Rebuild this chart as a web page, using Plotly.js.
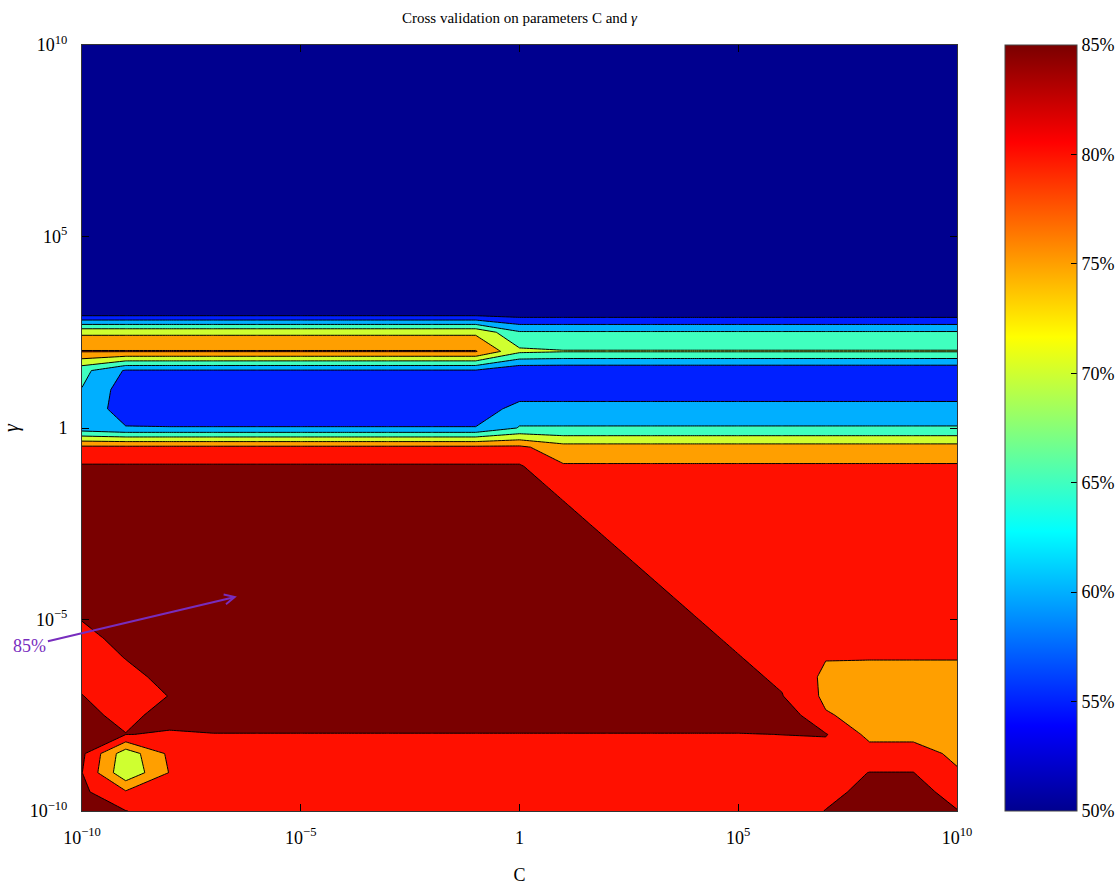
<!DOCTYPE html>
<html>
<head>
<meta charset="utf-8">
<script src="https://cdn.plot.ly/plotly-3.0.1.min.js"></script>
<style>html,body{margin:0;padding:0;background:#fff;}#chart{width:1119px;height:885px;}</style>
</head>
<body>
<div id="chart"></div>
<script>
// log10(C) grid (columns) and log10(gamma) grid (rows)
const logC = [-10,-9,-8,-7,-6,-5,-4,-3,-2,-1,0,1,2,3,4,5,6,7,8,9,10];
const logGamma = [-10,-9.5,-9,-8.5,-8,-7.5,-7,-6.5,-6,-5.5,-5,-4.5,-4,-3.5,-3,-2.5,-2,-1.5,-1,-0.5,0,
                  0.5,1,1.5,2,2.5,3,3.5,4,4.5,5,5.5,6,6.5,7,7.5,8,8.5,9,9.5,10];
// cross-validation accuracy (%) per (gamma row, C column)
const accuracy = [
  [87,85.1,83,83,83,83,83,83,83,83,83,83,83,83,83,83,83,85.1,87,87,85.1],          // -10
  [86,80.5,82,83,83,83,83,83,83,83,83,83,83,83,83,83,83,84,86,86,84],              // -9.5
  [85.1,71,80.2,83,83,83,83,83,83,83,83,83,83,83,83,83,83,83,85.1,85.1,80.5],      // -9
  [86,72,81,83,83,83,83,83,83,83,83,83,83,83,83,83,83,83,82,82,79],                // -8.5
  [87,85.1,84.6,84.8,84.8,84.8,84.8,84.8,84.8,84.8,84.8,84.8,84.8,84.8,84.8,84.8,85.05,85.3,78.7,78.7,78.5], // -8
  [86,84,86.4,88,88,88,88,88,88,88,88,88,88,88,88,88,88.5,80.4,78.5,78.5,78.5],    // -7.5
  [85.1,83,85.1,88,88,88,88,88,88,88,88,88,88,88,88,87.2,85.2,79,78.5,78.5,78.5],  // -7
  [84,84,86,88,88,88,88,88,88,88,88,88,88,88,88,86.2,84.2,79,78.5,78.5,78.5],      // -6.5
  [83,85.1,87,88,88,88,88,88,88,88,88,88,88,88,87.2,85.2,83.2,80.2,80.2,80.2,80.2],// -6
  [84,86,88,88,88,88,88,88,88,88,88,88,88,88,86.2,84.2,82.2,82.2,82.2,82.2,82.2],  // -5.5
  [85.1,87,88,88,88,88,88,88,88,88,88,88,88,87.2,85.2,83.2,82.2,82.2,82.2,82.2,82.2], // -5
  [86,88,88,88,88,88,88,88,88,88,88,88,88,86.2,84.2,82.2,82.2,82.2,82.2,82.2,82.2],  // -4.5
  [87,88,88,88,88,88,88,88,88,88,88,88,87.2,85.2,83.2,82.2,82.2,82.2,82.2,82.2,82.2],// -4
  [88,88,88,88,88,88,88,88,88,88,88,88,86.2,84.2,82.2,82.2,82.2,82.2,82.2,82.2,82.2],// -3.5
  [88,88,88,88,88,88,88,88,88,88,88,87.2,85.2,83.2,82.2,82.2,82.2,82.2,82.2,82.2,82.2],// -3
  [88,88,88,88,88,88,88,88,88,88,88,86.2,84.2,82.2,82.2,82.2,82.2,82.2,82.2,82.2,82.2],// -2.5
  [88,88,88,88,88,88,88,88,88,88,87.2,85.2,83.2,82.2,82.2,82.2,82.2,82.2,82.2,82.2,82.2],// -2
  [88,88,88,88,88,88,88,88,88,88,86.2,84.2,82.2,82.2,82.2,82.2,82.2,82.2,82.2,82.2,82.2],// -1.5
  [85.5,85.5,85.5,85.5,85.5,85.5,85.5,85.5,85.5,85.5,85.5,80.5,80.5,80.5,80.5,80.5,80.5,80.5,80.5,80.5,80.5], // -1
  [81,81,81,81,81,81,81,81,81,81,81,77,77,77,77,77,77,77,77,77,77],                // -0.5
  [62,60.3,60.3,60.3,60.3,60.3,60.3,60.3,60.3,60.3,65.3,65.3,65.3,65.3,65.3,65.3,65.3,65.3,65.3,65.3,65.3], // 0
  [63.5,57.5,56,56,56,56,56,56,56,56,62.5,62.5,62.5,62.5,62.5,62.5,62.5,62.5,62.5,62.5,62.5], // 0.5
  [64.8,57.5,56,56,56,56,56,56,56,56,56,56,56,56,56,56,56,56,56,56,56],            // 1
  [66.5,59.5,59.5,59.5,59.5,59.5,59.5,59.5,59.5,59.5,56,56,56,56,56,56,56,56,56,56,56], // 1.5
  [80.3,80.3,80.3,80.3,80.3,80.3,80.3,80.3,80.3,80.3,71,70.3,70.3,70.3,70.3,70.3,70.3,70.3,70.3,70.3,70.3], // 2
  [74,74,74,74,74,74,74,74,74,74,65.5,65.5,65.5,65.5,65.5,65.5,65.5,65.5,65.5,65.5,65.5], // 2.5
  [52,52,52,52,52,52,52,52,52,52,52,52,52,52,52,52,52,52,52,52,52],                // 3
  [51,51,51,51,51,51,51,51,51,51,51,51,51,51,51,51,51,51,51,51,51],                // 3.5
  [51,51,51,51,51,51,51,51,51,51,51,51,51,51,51,51,51,51,51,51,51],                // 4
  [51,51,51,51,51,51,51,51,51,51,51,51,51,51,51,51,51,51,51,51,51],                // 4.5
  [51,51,51,51,51,51,51,51,51,51,51,51,51,51,51,51,51,51,51,51,51],                // 5
  [51,51,51,51,51,51,51,51,51,51,51,51,51,51,51,51,51,51,51,51,51],                // 5.5
  [51,51,51,51,51,51,51,51,51,51,51,51,51,51,51,51,51,51,51,51,51],                // 6
  [51,51,51,51,51,51,51,51,51,51,51,51,51,51,51,51,51,51,51,51,51],                // 6.5
  [51,51,51,51,51,51,51,51,51,51,51,51,51,51,51,51,51,51,51,51,51],                // 7
  [51,51,51,51,51,51,51,51,51,51,51,51,51,51,51,51,51,51,51,51,51],                // 7.5
  [51,51,51,51,51,51,51,51,51,51,51,51,51,51,51,51,51,51,51,51,51],                // 8
  [51,51,51,51,51,51,51,51,51,51,51,51,51,51,51,51,51,51,51,51,51],                // 8.5
  [51,51,51,51,51,51,51,51,51,51,51,51,51,51,51,51,51,51,51,51,51],                // 9
  [51,51,51,51,51,51,51,51,51,51,51,51,51,51,51,51,51,51,51,51,51],                // 9.5
  [51,51,51,51,51,51,51,51,51,51,51,51,51,51,51,51,51,51,51,51,51]                 // 10
];

// tick values / labels
const axisTickVals = [-10,-5,0,5,10];
const axisTickText = ['10<sup>\u221210</sup>','10<sup>\u22125</sup>','1','10<sup>5</sup>','10<sup>10</sup>'];
const levelVals = [50,55,60,65,70,75,80,85];
const levelText = ['50%','55%','60%','65%','70%','75%','80%','85%'];
const colorbarRange = [50,85];

// contour band colours (MATLAB jet, level -> band)
const bandColors = ['rgb(0,0,143)','rgb(0,0,143)','rgb(0,32,255)','rgb(0,175,255)','rgb(64,255,191)',
                    'rgb(207,255,48)','rgb(255,159,0)','rgb(255,16,0)','rgb(122,0,0)'];
const bandScale = [];
bandColors.forEach(function(col, k){
  const lo = Math.max(0, (k - 0.5) / 8), hi = Math.min(1, (k + 0.5) / 8);
  bandScale.push([lo, col]); bandScale.push([hi, col]);
});
const jetScale = [[0,'rgb(0,0,143)'],[0.111,'rgb(0,0,255)'],[0.365,'rgb(0,255,255)'],
                  [0.619,'rgb(255,255,0)'],[0.873,'rgb(255,0,0)'],[1,'rgb(122,0,0)']];

const serif = 'Liberation Serif, Times New Roman, serif';
const purple = 'rgb(120,45,190)';

const traces = [
  {
    type: 'contour', x: logC, y: logGamma, z: accuracy,
    autocontour: false,
    contours: {start: 50, end: 85, size: 5, coloring: 'fill', showlines: true},
    line: {color: '#000', width: 1, smoothing: 0},
    colorscale: bandScale, showscale: false, hoverinfo: 'skip'
  },
  {
    type: 'scatter', x: [null, null], y: [null, null], mode: 'markers', hoverinfo: 'skip',
    showlegend: false,
    marker: {
      color: colorbarRange, cmin: 50, cmax: 85, colorscale: jetScale, showscale: true,
      colorbar: {
        x: 1.0549, xanchor: 'left', y: 0.5, yanchor: 'middle', len: 1, lenmode: 'fraction',
        thickness: 72, thicknessmode: 'pixels', xpad: 0, ypad: 0,
        outlinewidth: 1, outlinecolor: '#444',
        tickmode: 'array', tickvals: levelVals, ticktext: levelText,
        ticks: 'inside', ticklen: 6, tickcolor: '#000', tickwidth: 1,
        tickfont: {family: serif, size: 18, color: '#000'}
      }
    }
  }
];

const layout = {
  width: 1119, height: 885,
  margin: {l: 82, r: 162, t: 45, b: 74, autoexpand: false},
  paper_bgcolor: '#fff', plot_bgcolor: '#fff',
  showlegend: false,
  title: {text: 'Cross validation on parameters C and <i>\u03b3</i>', font: {family: serif, size: 15, color: '#000'},
          xref: 'paper', x: 0.5, xanchor: 'center', yref: 'container', y: 0.98, yanchor: 'middle'},
  xaxis: {
    range: [-10, 10], tickmode: 'array', tickvals: axisTickVals, ticktext: axisTickText,
    ticks: 'inside', ticklen: 7, tickcolor: '#000', showgrid: false, zeroline: false,
    showline: true, linecolor: '#333', linewidth: 1, mirror: 'ticks',
    tickfont: {family: serif, size: 18, color: '#000'}, ticklabelstandoff: 10,
    title: {text: 'C', font: {family: serif, size: 18, color: '#000'}, standoff: 22}
  },
  yaxis: {
    range: [-10, 10], tickmode: 'array', tickvals: axisTickVals, ticktext: axisTickText,
    ticks: 'inside', ticklen: 7, tickcolor: '#000', showgrid: false, zeroline: false,
    showline: true, linecolor: '#333', linewidth: 1, mirror: 'ticks',
    tickfont: {family: serif, size: 18, color: '#000'}, ticklabelstandoff: 10,
    title: {text: '<i>\u03b3</i>', font: {family: serif, size: 20, color: '#000'}, standoff: 8}
  },
  annotations: [{
    x: -6.46, y: -4.4, xref: 'x', yref: 'y', text: '85%',
    showarrow: true, arrowhead: 5, arrowsize: 1, arrowwidth: 2, arrowcolor: purple,
    ax: -207, ay: 49, standoff: 0,
    font: {family: serif, size: 18, color: purple}
  }]
};

Plotly.newPlot('chart', traces, layout, {displayModeBar: false, staticPlot: true});
</script>
</body>
</html>
